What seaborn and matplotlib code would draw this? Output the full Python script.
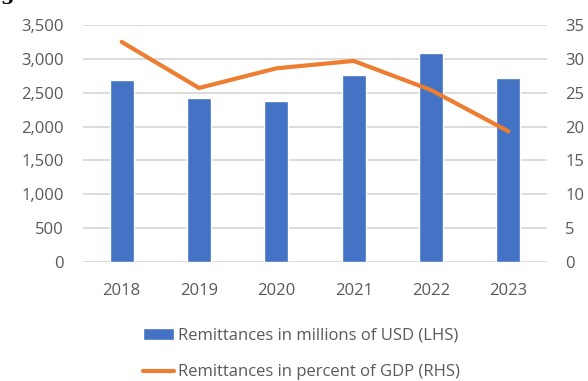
import matplotlib
matplotlib.use("Agg")
import matplotlib.pyplot as plt
import seaborn as sns
import pandas as pd
import numpy as np

years = ["2018", "2019", "2020", "2021", "2022", "2023"]
remit_usd = [2690, 2420, 2380, 2760, 3090, 2710]
remit_pct_gdp = [32.5, 25.7, 28.6, 29.7, 25.4, 19.3]

label_usd = "Remittances in millions of USD (LHS)"
label_pct = "Remittances in percent of GDP (RHS)"

bar_color = "#4472C4"
line_color = "#ED7D31"
text_color = "#595959"
grid_color = "#D9D9D9"

sns.set_theme(style="white")
plt.rcParams["font.family"] = ["Open Sans", "DejaVu Sans"]

df = pd.DataFrame({"year": years, "usd": remit_usd, "pct": remit_pct_gdp})

fig = plt.figure(figsize=(5.88, 3.81), dpi=100)
ax = fig.add_axes([83 / 588, 1 - 262 / 381, (547 - 83) / 588, (262 - 25) / 381])

sns.barplot(data=df, x="year", y="usd", color=bar_color, width=0.31,
            saturation=1, ax=ax, label=label_usd, zorder=2)
ax.set_ylim(0, 3500)
ax.set_yticks(np.arange(0, 3501, 500))
ax.yaxis.set_major_formatter(matplotlib.ticker.FuncFormatter(lambda v, p: f"{int(v):,}"))
ax.set_xlim(-0.5, 5.5)
ax.grid(axis="y", color=grid_color, linewidth=1.3, zorder=0)
ax.set_axisbelow(True)
for s in ax.spines.values():
    s.set_visible(False)
ax.set_xlabel("")
ax.set_ylabel("")
ax.tick_params(axis="y", length=0, pad=14, labelsize=12, labelcolor=text_color)
ax.tick_params(axis="x", length=0, pad=15, labelsize=12, labelcolor=text_color)

ax2 = ax.twinx()
sns.lineplot(data=df, x="year", y="pct", color=line_color, linewidth=3,
             ax=ax2, label=label_pct, sort=False)
ax2.set_ylim(0, 35)
ax2.set_yticks(np.arange(0, 36, 5))
ax2.set_xlim(-0.5, 5.5)
for s in ax2.spines.values():
    s.set_visible(False)
ax2.set_ylabel("")
ax2.tick_params(axis="y", length=0, pad=13, labelsize=12, labelcolor=text_color)
ax2.grid(False)
if ax2.get_legend():
    ax2.get_legend().remove()
if ax.get_legend():
    ax.get_legend().remove()

h1, l1 = ax.get_legend_handles_labels()
h2, l2 = ax2.get_legend_handles_labels()
leg = fig.legend(h1 + h2, l1 + l2, loc="upper left",
                 bbox_to_anchor=(136 / 588, 1 - 321 / 381),
                 frameon=False, fontsize=12, handlelength=1.9,
                 handletextpad=0.25, labelspacing=1.25, borderaxespad=0)
for t in leg.get_texts():
    t.set_color(text_color)

# top line of the figure heading
fig.text(0.0, 1.0, "g", fontsize=14, fontweight="bold", family="DejaVu Serif",
         ha="left", va="baseline", color="black")

fig.savefig("out.png", dpi=100)
